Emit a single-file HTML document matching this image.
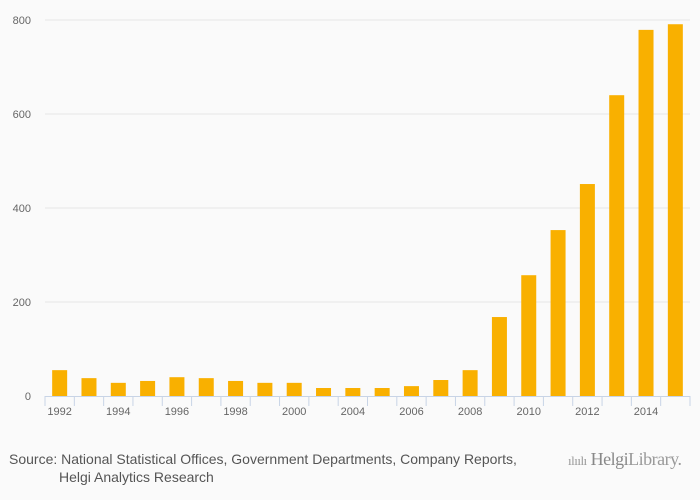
<!DOCTYPE html>
<html><head><meta charset="utf-8"><style>
html,body{margin:0;padding:0;background:#fafafa;}
body{width:700px;height:500px;overflow:hidden;font-family:"Liberation Sans",sans-serif;}
#src{position:absolute;left:9px;top:450px;font-size:14px;color:#555;line-height:18px;white-space:nowrap;}
#logo{position:absolute;left:568px;top:449px;font-family:"Liberation Serif",serif;font-size:18px;color:#999;white-space:nowrap;letter-spacing:-0.5px;}
</style></head><body>
<svg id="chart" width="700" height="440" style="position:absolute;left:0;top:0"></svg>
<div id="src">Source: National Statistical Offices, Government Departments, Company Reports,<br><span style="padding-left:50px">Helgi Analytics Research</span></div>
<div id="logo"><span style="font-size:13px">ılıılı</span> <b style="font-weight:normal;color:#888">Helgi</b>Library.</div>
<script>
const categories=["1992","1993","1994","1995","1996","1997","1998","1999","2000","2003","2004","2005","2006","2007","2008","2009","2010","2011","2012","2013","2014","2015"];
const values=[55,38,28,32,40,38,32,28,28,17,17,17,21,34,55,168,257,353,451,640,779,791];
const tickLabels=["1992","1994","1996","1998","2000","2004","2006","2008","2010","2012","2014"];
const yTicks=[0,200,400,600,800];
const svg=document.getElementById('chart');
const NS='http://www.w3.org/2000/svg';
const x0=45,x1=690,y0=396,yTop=20,yMax=800;
const bw=(x1-x0)/categories.length;
const y=v=>y0-(v/yMax)*(y0-yTop);
const xc=i=>x0+bw*(i+0.5);
function mk(t,a){const e=document.createElementNS(NS,t);for(const k in a)e.setAttribute(k,a[k]);svg.appendChild(e);return e;}
yTicks.forEach(t=>{
  if(t>0){const g=mk('line',{x1:x0,x2:x1,y1:y(t),y2:y(t),stroke:'#e6e6e6','stroke-width':1});
  
  }
  const l=mk('text',{x:31,y:y(t)+4,'text-anchor':'end','font-size':11,fill:'#666','font-family':'Liberation Sans'});
  l.textContent=t;
  
  
});
values.forEach((v,i)=>{
  const r=mk('rect',{x:xc(i)-7.5,y:y(v),width:15,height:y0-y(v),fill:'#f9b000'});
  
  
});
const ax=mk('line',{x1:x0,x2:x1,y1:y0+0.5,y2:y0+0.5,stroke:'#c8d4e6','stroke-width':1});


for(let i=0;i<=categories.length;i++){
  const t=mk('line',{x1:x0+bw*i,x2:x0+bw*i,y1:y0,y2:y0+10,stroke:'#c8d4e6','stroke-width':1});
  
  
}
tickLabels.forEach(lab=>{
  const i=categories.indexOf(lab);
  const t=mk('text',{x:xc(i),y:y0+19,'text-anchor':'middle','font-size':11,fill:'#666','font-family':'Liberation Sans'});
  t.textContent=lab;
  
  
});
</script>
</body></html>
